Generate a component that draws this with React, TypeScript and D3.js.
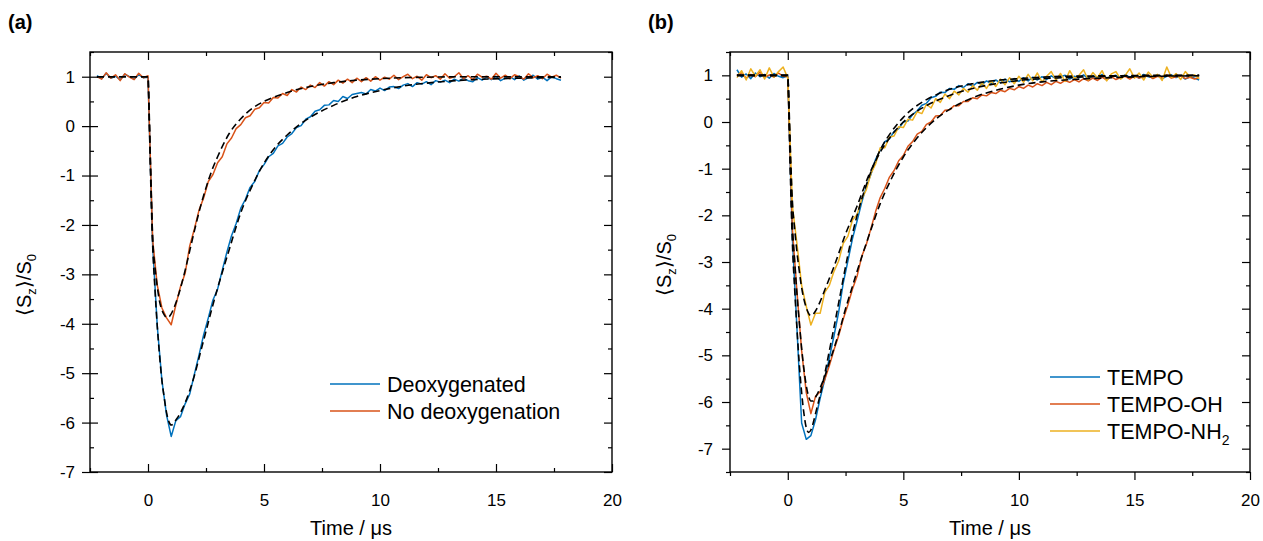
import React from "react";
import * as d3 from "d3";

const FONT = "'Liberation Sans', Arial, Helvetica, sans-serif";
const BLUE = "#0072bd";
const ORANGE = "#d95319";
const YELLOW = "#edb120";

// recorded traces: first point at -2.2 us, one point every 0.2 us
const sampleStart = -2.2;
const sampleStep = 0.2;

// panel (a)
const deoxygenated = [
  1.02, 0.96, 1.07, 0.97, 1.01, 0.94, 1.05, 1.0, 0.95, 1.04, 0.98, 0.99,
  -2.4, -4.05, -5.15, -5.85, -6.28, -5.96, -5.88, -5.62, -5.42, -5.02, -4.63, -4.22, -3.88, -3.52, -3.3, -2.92, -2.55, -2.22, -1.97,
  -1.66, -1.48, -1.24, -1.12, -0.9, -0.78, -0.62, -0.55, -0.4, -0.35, -0.22, -0.15, -0.03, 0.01, 0.14, 0.19, 0.3, 0.33, 0.42, 0.43, 0.52,
  0.5, 0.6, 0.56, 0.64, 0.66, 0.68, 0.65, 0.74, 0.71, 0.77, 0.72, 0.79, 0.8, 0.76, 0.83, 0.86, 0.8, 0.88, 0.85, 0.9, 0.84, 0.92, 0.89,
  0.93, 0.88, 0.95, 0.91, 0.97, 0.92, 0.9, 0.98, 0.93, 0.99, 0.94, 1.01, 0.92, 0.97, 1.0, 0.94, 1.02, 0.93, 0.98, 1.03, 0.95, 0.99,
  0.92, 1.0, 0.96, 0.93,
];
const noDeoxygenation = [
  1.0, 0.95, 1.08, 0.97, 1.04, 0.92, 1.06, 0.99, 0.94, 1.07, 0.98, 1.02,
  -2.3, -3.22, -3.68, -3.88, -4.02, -3.62, -3.25, -2.98, -2.42, -2.08, -1.7, -1.45, -1.12, -0.98, -0.74, -0.62, -0.36, -0.24, -0.05,
  0.03, 0.17, 0.21, 0.34, 0.37, 0.48, 0.47, 0.58, 0.57, 0.66, 0.62, 0.74, 0.69, 0.79, 0.74, 0.83, 0.78, 0.88, 0.81, 0.9, 0.84,
  0.93, 0.87, 0.95, 0.88, 0.97, 0.9, 0.98, 0.91, 1.0, 0.93, 0.99, 0.95, 1.03, 0.94, 1.0, 1.05, 0.96, 1.01, 0.93, 1.04, 0.98, 1.02,
  0.95, 1.06, 0.97, 1.0, 1.08, 0.96, 1.02, 0.94, 1.05, 0.99, 1.01, 0.95, 1.07, 0.97, 1.03, 0.96, 1.04, 1.0, 0.95, 1.06, 0.98, 1.02,
  0.96, 1.05, 0.99, 1.03, 0.97,
];

// panel (b)
const tempo = [
  1.12, 0.96, 1.03, 0.93, 1.05, 0.97, 1.02, 0.94, 1.04, 0.98, 0.95, 0.99,
  -2.5, -4.45, -6.45, -6.8, -6.72, -6.38, -5.92, -5.52, -5.05, -4.58, -4.08, -3.45, -2.98, -2.5, -2.12, -1.72, -1.38, -1.12, -0.8,
  -0.6, -0.42, -0.36, -0.2, -0.14, 0.0, 0.02, 0.16, 0.24, 0.36, 0.4, 0.52, 0.55, 0.64, 0.63, 0.72, 0.7, 0.78, 0.74, 0.82, 0.77,
  0.85, 0.8, 0.88, 0.82, 0.9, 0.84, 0.92, 0.86, 0.93, 0.87, 0.95, 0.88, 0.96, 0.9, 0.97, 0.91, 0.99, 0.93, 0.97, 1.0, 0.92, 0.98,
  0.95, 1.01, 0.93, 0.99, 0.96, 1.02, 0.94, 0.98, 1.0, 0.93, 1.01, 0.96, 0.99, 0.94, 1.02, 0.97, 0.95, 1.0, 0.93, 0.98, 1.01, 0.95,
  0.99, 0.92, 0.97, 0.94, 0.9,
];
const tempoOH = [
  1.0, 1.06, 0.94, 1.02, 0.97, 1.07, 0.95, 1.01, 0.96, 1.05, 0.98, 0.97,
  -2.3, -3.65, -4.9, -5.8, -6.25, -5.88, -5.78, -5.52, -5.22, -4.88, -4.58, -4.22, -3.92, -3.58, -3.3, -2.88, -2.62, -2.28, -1.92,
  -1.62, -1.42, -1.18, -1.04, -0.83, -0.72, -0.52, -0.42, -0.26, -0.2, -0.05, 0.0, 0.13, 0.14, 0.25, 0.26, 0.35, 0.35, 0.44, 0.44, 0.52,
  0.5, 0.58, 0.56, 0.63, 0.61, 0.68, 0.65, 0.72, 0.69, 0.76, 0.72, 0.79, 0.75, 0.82, 0.78, 0.85, 0.8, 0.87, 0.83, 0.89, 0.85, 0.91,
  0.86, 0.93, 0.88, 0.94, 0.89, 0.96, 0.9, 0.97, 0.91, 0.95, 0.98, 0.92, 0.99, 0.94, 0.97, 1.0, 0.93, 0.98, 0.95, 1.01, 0.94, 0.97,
  0.99, 0.93, 0.96, 0.92, 0.95,
];
const tempoNH2 = [
  0.95, 1.1, 0.9, 1.14, 0.98, 1.12, 0.92, 1.16, 0.96, 1.08, 1.18, 0.94,
  -1.8, -2.62, -3.5, -3.95, -4.35, -4.1, -4.1, -3.65, -3.5, -3.2, -2.98, -2.6, -2.45, -2.1, -1.98, -1.65, -1.45, -1.1, -0.9,
  -0.55, -0.55, -0.32, -0.3, -0.1, -0.12, 0.06, 0.04, 0.22, 0.18, 0.38, 0.3, 0.5, 0.42, 0.6, 0.5, 0.66, 0.58, 0.72, 0.64, 0.78,
  0.68, 0.84, 0.72, 0.88, 0.76, 0.92, 0.8, 0.95, 0.82, 0.98, 0.85, 1.02, 0.88, 1.05, 0.86, 0.98, 1.08, 0.9, 1.04, 0.87, 1.1, 0.93,
  1.0, 1.12, 0.9, 1.06, 0.95, 1.1, 0.88, 1.03, 1.08, 0.92, 1.0, 1.14, 0.94, 1.05, 0.9, 1.07, 0.96, 1.02, 0.89, 1.18, 0.95, 1.04,
  0.91, 1.08, 0.97, 1.01, 0.93,
];

// fitted curves (dashed)
const fitTimes = [
  -2.2, 0, 0.05, 0.1, 0.2, 0.3, 0.4, 0.5, 0.6, 0.7, 0.8, 0.9, 1.0, 1.1, 1.2, 1.4, 1.6, 1.8, 2.0, 2.25,
  2.5, 2.75, 3.0, 3.5, 4.0, 4.5, 5.0, 5.5, 6.0, 6.5, 7.0, 8.0, 9.0, 10.0, 11.0, 12.0, 14.0, 16.0, 17.8,
];
const fitDeoxygenated = [
  1, 1, 0.2, -0.8, -2.4, -3.3, -4.05, -4.65, -5.15, -5.5, -5.8, -5.98, -6.05, -6.02, -5.95, -5.8, -5.6, -5.35, -5.05, -4.6,
  -4.15, -3.7, -3.28, -2.5, -1.75, -1.2, -0.75, -0.42, -0.18, 0.02, 0.18, 0.42, 0.6, 0.72, 0.81, 0.87, 0.94, 0.97, 0.99,
];
const fitNoDeoxygenation = [
  1, 1, 0.3, -0.6, -2.25, -2.85, -3.25, -3.55, -3.72, -3.82, -3.87, -3.86, -3.8, -3.7, -3.58, -3.28, -2.92, -2.52, -2.12, -1.65,
  -1.25, -0.9, -0.62, -0.15, 0.15, 0.36, 0.5, 0.6, 0.68, 0.75, 0.8, 0.88, 0.93, 0.96, 0.98, 0.99, 1.0, 1.0, 1.0,
];
const fitTempo = [
  1, 1, 0.2, -0.9, -2.6, -3.6, -4.45, -5.2, -5.8, -6.25, -6.55, -6.65, -6.6, -6.45, -6.25, -5.85, -5.4, -4.9, -4.4, -3.75,
  -3.1, -2.5, -2.0, -1.2, -0.6, -0.2, 0.1, 0.32, 0.48, 0.6, 0.7, 0.82, 0.89, 0.93, 0.96, 0.98, 0.99, 1.0, 1.0,
];
const fitTempoOH = [
  1, 1, 0.3, -0.7, -2.2, -3.0, -3.7, -4.3, -4.85, -5.3, -5.65, -5.88, -5.98, -5.98, -5.9, -5.7, -5.45, -5.15, -4.85, -4.45,
  -4.0, -3.6, -3.2, -2.45, -1.75, -1.2, -0.75, -0.4, -0.12, 0.1, 0.27, 0.52, 0.68, 0.79, 0.86, 0.9, 0.95, 0.98, 0.99,
];
const fitTempoNH2 = [
  1, 1, 0.4, -0.4, -1.7, -2.3, -2.8, -3.2, -3.55, -3.8, -3.98, -4.1, -4.15, -4.12, -4.05, -3.85, -3.6, -3.35, -3.1, -2.75,
  -2.4, -2.1, -1.8, -1.15, -0.65, -0.28, 0.0, 0.2, 0.35, 0.47, 0.57, 0.72, 0.82, 0.89, 0.93, 0.95, 0.98, 0.99, 1.0,
];

const xMajor = [0, 5, 10, 15, 20];
const xMinor = [-2.5, 2.5, 7.5, 12.5, 17.5];
const yMajor = [1, 0, -1, -2, -3, -4, -5, -6, -7];
const yMinor = [1.5, 0.5, -0.5, -1.5, -2.5, -3.5, -4.5, -5.5, -6.5, -7.5];

type LegendItem = { name: string; sub?: string; color: string };
type PanelSpec = {
  tag: string;
  tagX: number;
  left: number;
  right: number;
  top: number;
  bottom: number;
  yDomain: [number, number];
  xTickOut: boolean;
  yTickCross: boolean;
  curves: { values: number[]; color: string }[];
  fits: number[][];
  legendX: number;
  legendY: number;
  legend: LegendItem[];
  yTitleX: number;
  yTitleY: number;
};

const panels: PanelSpec[] = [
  {
    tag: "(a)", tagX: 8, left: 90, right: 612, top: 52, bottom: 472, yDomain: [-7, 1.5],
    xTickOut: false, yTickCross: true,
    curves: [{ values: deoxygenated, color: BLUE }, { values: noDeoxygenation, color: ORANGE }],
    fits: [fitDeoxygenated, fitNoDeoxygenation],
    legendX: 330, legendY: 384,
    legend: [{ name: "Deoxygenated", color: BLUE }, { name: "No deoxygenation", color: ORANGE }],
    yTitleX: 31, yTitleY: 285,
  },
  {
    tag: "(b)", tagX: 648, left: 730, right: 1250, top: 52, bottom: 472, yDomain: [-7.5, 1.5],
    xTickOut: true, yTickCross: false,
    curves: [{ values: tempo, color: BLUE }, { values: tempoOH, color: ORANGE }, { values: tempoNH2, color: YELLOW }],
    fits: [fitTempo, fitTempoOH, fitTempoNH2],
    legendX: 1050, legendY: 377,
    legend: [
      { name: "TEMPO", color: BLUE },
      { name: "TEMPO-OH", color: ORANGE },
      { name: "TEMPO-NH", sub: "2", color: YELLOW },
    ],
    yTitleX: 671, yTitleY: 265,
  },
];

function drawPanel(svg: d3.Selection<SVGSVGElement, unknown, null, undefined>, p: PanelSpec) {
  const x = d3.scaleLinear().domain([-2.5, 20]).range([p.left, p.right]);
  const y = d3.scaleLinear().domain(p.yDomain).range([p.bottom, p.top]);
  const g = svg.append("g");
  const minors = yMinor.filter((v) => v >= p.yDomain[0] && v <= p.yDomain[1]);

  const clipId = "clip" + p.tagX;
  g.append("clipPath").attr("id", clipId).append("rect")
    .attr("x", p.left).attr("y", p.top)
    .attr("width", p.right - p.left).attr("height", p.bottom - p.top);

  const plot = g.append("g").attr("clip-path", `url(#${clipId})`);
  const dataLine = d3.line<number>()
    .x((_, i) => x(sampleStart + i * sampleStep))
    .y((d) => y(d));
  p.curves.forEach((c) => {
    plot.append("path").attr("d", dataLine(c.values))
      .attr("fill", "none").attr("stroke", c.color)
      .attr("stroke-width", 1.5).attr("stroke-linejoin", "round");
  });
  const fitLine = d3.line<number>()
    .x((_, i) => x(fitTimes[i]))
    .y((d) => y(d))
    .curve(d3.curveMonotoneX);
  p.fits.forEach((f) => {
    plot.append("path").attr("d", fitLine(f))
      .attr("fill", "none").attr("stroke", "#000")
      .attr("stroke-width", 1.6).attr("stroke-dasharray", "7 4");
  });

  const fix = (s: any) => {
    s.select(".domain").remove();
    s.attr("font-family", FONT).attr("font-size", 17);
    s.selectAll(".tick line").attr("stroke-width", 1.2);
  };
  const blank = () => "";
  const axis = (gen: any, tx: number, ty: number) =>
    g.append("g").attr("transform", `translate(${tx},${ty})`).call(gen).call(fix);

  // bottom
  axis(d3.axisBottom(x).tickValues(xMajor).tickSize(p.xTickOut ? 8 : -8)
    .tickPadding(p.xTickOut ? 14 : 22).tickFormat((d) => String(d)), 0, p.bottom);
  axis(d3.axisBottom(x).tickValues(xMinor).tickSize(p.xTickOut ? 4 : -4).tickFormat(blank), 0, p.bottom);
  // top
  axis(d3.axisTop(x).tickValues(xMajor).tickSize(-8).tickFormat(blank), 0, p.top);
  axis(d3.axisTop(x).tickValues(xMinor).tickSize(-4).tickFormat(blank), 0, p.top);
  // left
  axis(d3.axisLeft(y).tickValues(yMajor).tickSize(8)
    .tickPadding(p.yTickCross ? 7 : 9).tickFormat((d) => String(d)), p.left, 0);
  if (p.yTickCross) axis(d3.axisLeft(y).tickValues(yMajor).tickSize(-8).tickFormat(blank), p.left, 0);
  axis(d3.axisLeft(y).tickValues(minors).tickSize(p.yTickCross ? -4 : 4).tickFormat(blank), p.left, 0);
  // right
  axis(d3.axisRight(y).tickValues(yMajor).tickSize(-8).tickFormat(blank), p.right, 0);
  axis(d3.axisRight(y).tickValues(minors).tickSize(-4).tickFormat(blank), p.right, 0);

  g.append("rect").attr("x", p.left).attr("y", p.top)
    .attr("width", p.right - p.left).attr("height", p.bottom - p.top)
    .attr("fill", "none").attr("stroke", "#000").attr("stroke-width", 1.4);

  // titles
  g.append("text").attr("x", p.tagX).attr("y", 29)
    .attr("font-family", FONT).attr("font-size", 20).attr("font-weight", "bold")
    .text(p.tag);
  g.append("text").attr("x", (p.left + p.right) / 2).attr("y", 535)
    .attr("text-anchor", "middle").attr("font-family", FONT).attr("font-size", 20)
    .text("Time / \u03bcs");
  const yt = g.append("text")
    .attr("transform", `translate(${p.yTitleX},${p.yTitleY}) rotate(-90)`)
    .attr("text-anchor", "middle").attr("font-family", FONT).attr("font-size", 20);
  yt.append("tspan").text("\u27e8S");
  yt.append("tspan").attr("font-size", 13).attr("dy", 5).text("z");
  yt.append("tspan").attr("dy", -5).text("\u27e9/S");
  yt.append("tspan").attr("font-size", 13).attr("dy", 5).text("0");

  // legend
  p.legend.forEach((item, i) => {
    const ly = p.legendY + i * 27;
    g.append("line").attr("x1", p.legendX).attr("x2", p.legendX + 50)
      .attr("y1", ly).attr("y2", ly).attr("stroke", item.color).attr("stroke-width", 1.6);
    const t = g.append("text").attr("x", p.legendX + 57).attr("y", ly + 7.5)
      .attr("font-family", FONT).attr("font-size", 21.5).text(item.name);
    if (item.sub) t.append("tspan").attr("font-size", 14).attr("dy", 6).text(item.sub);
  });
}

export default function App() {
  const svgRef = React.useRef<SVGSVGElement>(null);

  React.useEffect(() => {
    const svg = d3.select(svgRef.current!);
    svg.selectAll("*").remove();
    panels.forEach((p) => drawPanel(svg, p));
  }, []);

  return (
    <svg
      ref={svgRef}
      width={1263}
      height={541}
      style={{ position: "absolute", left: 0, top: 0, background: "#fff" }}
    />
  );
}
